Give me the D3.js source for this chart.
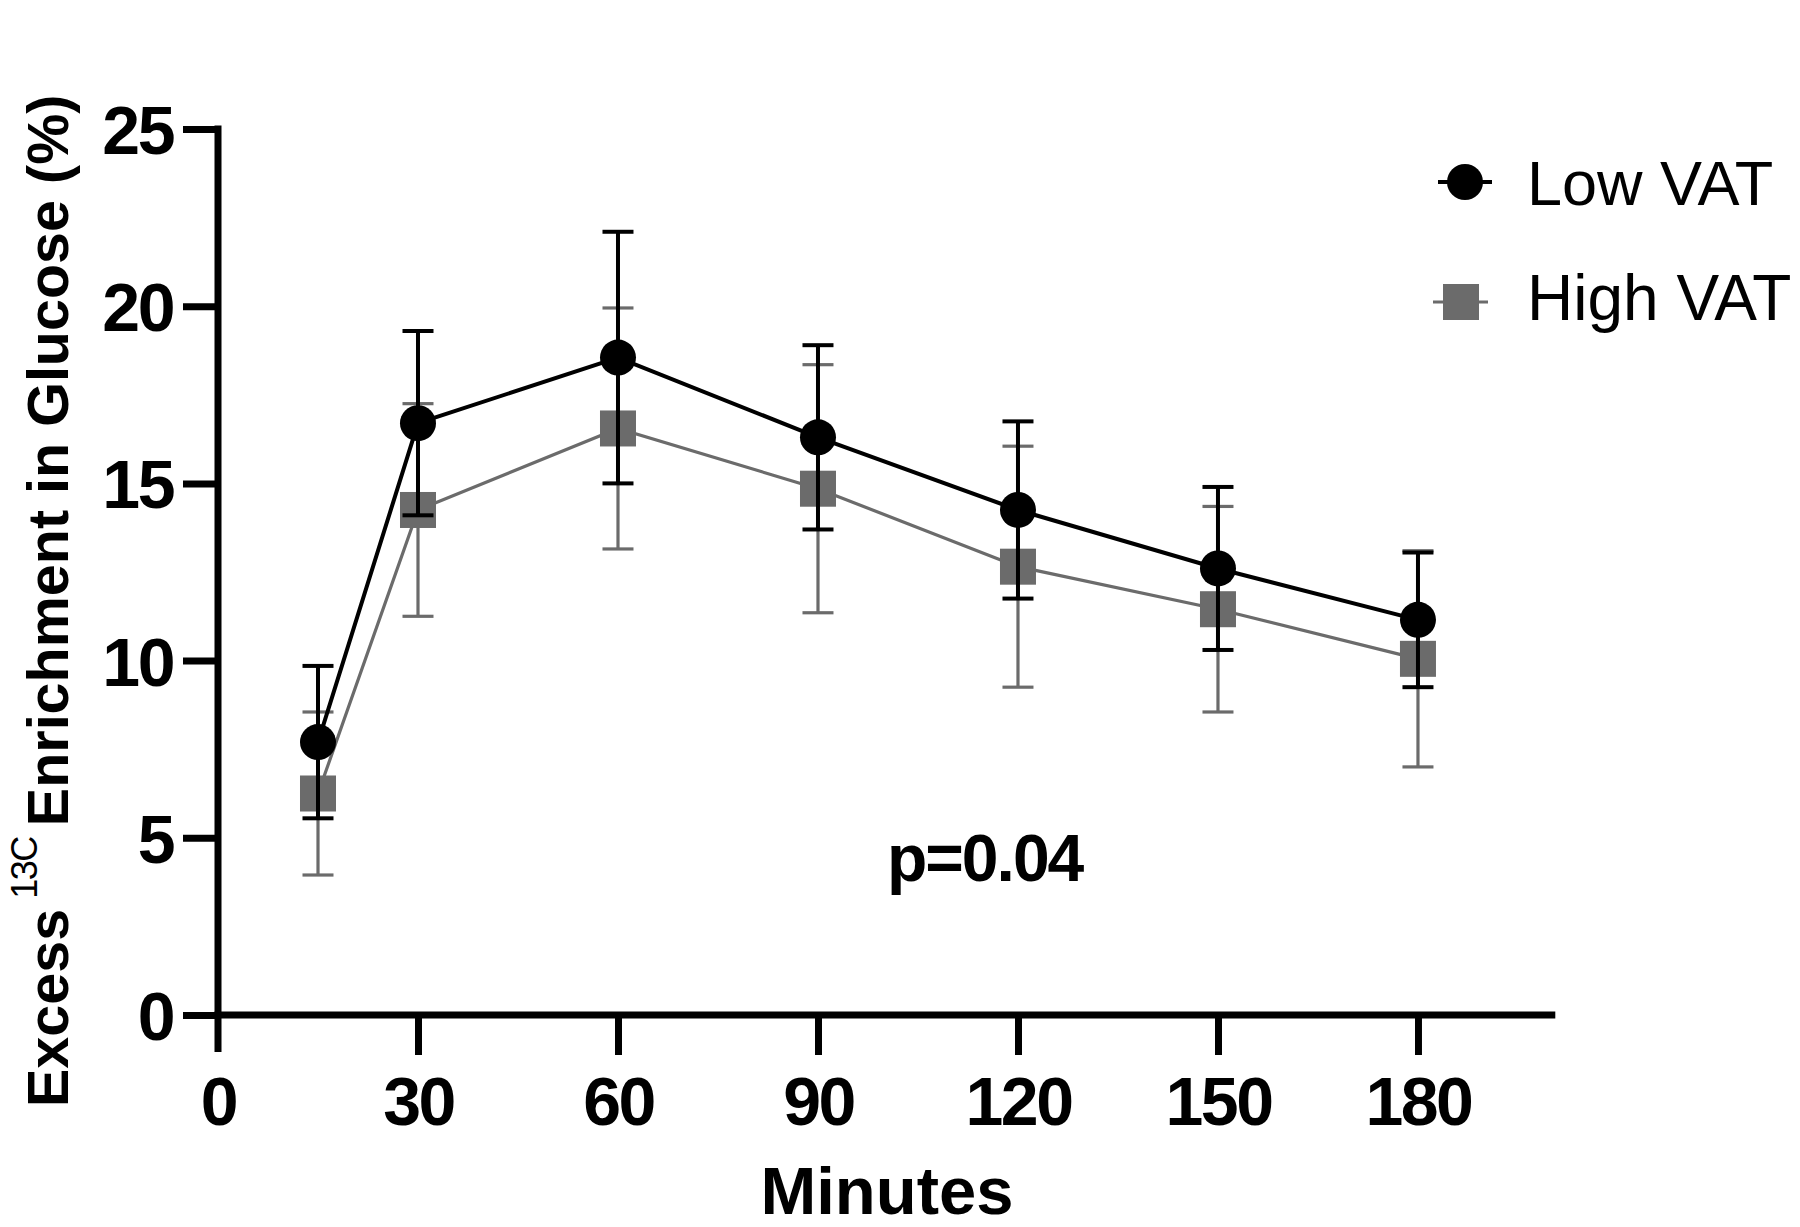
<!DOCTYPE html>
<html>
<head>
<meta charset="utf-8">
<script src="https://cdn.jsdelivr.net/npm/d3@7"></script>
<style>
  html, body { margin: 0; padding: 0; background: #fff; }
  svg { display: block; }
  text { font-family: "Liberation Sans", Arial, Helvetica, sans-serif; }
</style>
</head>
<body>
<script>
// ---- data ----
const times = [15, 30, 60, 90, 120, 150, 180];
const lowMean = [7.7, 16.7, 18.55, 16.3, 14.25, 12.6, 11.15];
const lowSD = [2.15, 2.6, 3.55, 2.6, 2.5, 2.3, 1.9];
const highMean = [6.25, 14.25, 16.55, 14.85, 12.65, 11.45, 10.05];
const highSD = [2.3, 3.0, 3.4, 3.5, 3.4, 2.9, 3.05];
const xTicks = [30, 60, 90, 120, 150, 180];
const yTicks = [0, 5, 10, 15, 20, 25];
const seriesNames = ["Low VAT", "High VAT"];

const W = 1800, H = 1227;
const svg = d3.select("body").append("svg").attr("width", W).attr("height", H);

const x = d3.scaleLinear().domain([0, 200]).range([218, 1551.3]);
const y = d3.scaleLinear().domain([0, 25]).range([1015, 129]);

const BLACK = "#000";
const GRAY = "#6b6b6b";
const AXW = 7;

// ---- axes (Prism style) ----
const g = svg.append("g");
g.append("line").attr("x1", x(0)).attr("x2", x(0))
  .attr("y1", y(25) - AXW / 2).attr("y2", y(0) + 37)
  .attr("stroke", BLACK).attr("stroke-width", AXW);
g.append("line").attr("x1", x(0) - AXW / 2).attr("x2", x(200) + 4)
  .attr("y1", y(0)).attr("y2", y(0))
  .attr("stroke", BLACK).attr("stroke-width", AXW);

const yAxis = d3.axisLeft(y).tickValues(yTicks).tickSize(35).tickPadding(10).tickFormat(d3.format("d"));
const ya = g.append("g").attr("transform", `translate(${x(0)},0)`).call(yAxis);
ya.select(".domain").remove();
ya.selectAll(".tick line").attr("stroke", BLACK).attr("stroke-width", AXW);
ya.selectAll(".tick text").attr("font-size", 68).attr("font-weight", "bold")
  .attr("fill", BLACK).attr("letter-spacing", "-2.5px")
  .attr("font-family", "'Liberation Sans', Arial, sans-serif").attr("dy", "0.36em");

const xAxis = d3.axisBottom(x).tickValues([0].concat(xTicks)).tickSize(40).tickPadding(22).tickFormat(d3.format("d"));
const xa = g.append("g").attr("transform", `translate(0,${y(0)})`).call(xAxis);
xa.select(".domain").remove();
xa.selectAll(".tick line").attr("stroke", BLACK).attr("stroke-width", AXW)
  .attr("opacity", d => d === 0 ? 0 : 1);
xa.selectAll(".tick text").attr("font-size", 68).attr("font-weight", "bold")
  .attr("fill", BLACK).attr("letter-spacing", "-2.5px")
  .attr("font-family", "'Liberation Sans', Arial, sans-serif").attr("dy", "0.71em");

// ---- series ----
function drawSeries(means, sds, color, lw, shape) {
  const sg = svg.append("g");
  const cap = 31;
  times.forEach((t, i) => {
    const cx = x(t);
    const top = y(means[i] + sds[i]), bot = y(means[i] - sds[i]);
    sg.append("line").attr("x1", cx).attr("x2", cx).attr("y1", top).attr("y2", bot)
      .attr("stroke", color).attr("stroke-width", lw);
    sg.append("line").attr("x1", cx - cap / 2).attr("x2", cx + cap / 2).attr("y1", top).attr("y2", top)
      .attr("stroke", color).attr("stroke-width", lw);
    sg.append("line").attr("x1", cx - cap / 2).attr("x2", cx + cap / 2).attr("y1", bot).attr("y2", bot)
      .attr("stroke", color).attr("stroke-width", lw);
  });
  const line = d3.line().x((d, i) => x(times[i])).y(d => y(d));
  sg.append("path").datum(means).attr("d", line).attr("fill", "none")
    .attr("stroke", color).attr("stroke-width", lw);
  if (shape === "circle") {
    sg.selectAll("circle").data(means).join("circle")
      .attr("cx", (d, i) => x(times[i])).attr("cy", d => y(d)).attr("r", 18).attr("fill", color);
  } else {
    sg.selectAll("rect.m").data(means).join("rect").attr("class", "m")
      .attr("x", (d, i) => x(times[i]) - 18).attr("y", d => y(d) - 18)
      .attr("width", 36).attr("height", 36).attr("fill", color);
  }
  return sg;
}
drawSeries(highMean, highSD, GRAY, 3.2, "square");
drawSeries(lowMean, lowSD, BLACK, 4, "circle");

// ---- legend ----
const lg = svg.append("g");
lg.append("line").attr("x1", 1438).attr("x2", 1492).attr("y1", 182).attr("y2", 182)
  .attr("stroke", BLACK).attr("stroke-width", 4);
lg.append("circle").attr("cx", 1465).attr("cy", 182).attr("r", 18).attr("fill", BLACK);
lg.append("text").attr("x", 1527).attr("y", 205).attr("font-size", 63).attr("fill", BLACK)
  .text(seriesNames[0]);
lg.append("line").attr("x1", 1433).attr("x2", 1488).attr("y1", 302).attr("y2", 302)
  .attr("stroke", GRAY).attr("stroke-width", 3);
lg.append("rect").attr("x", 1443).attr("y", 284).attr("width", 36).attr("height", 36).attr("fill", GRAY);
lg.append("text").attr("x", 1527).attr("y", 320).attr("font-size", 64).attr("fill", BLACK)
  .text(seriesNames[1]);

// ---- annotations ----
svg.append("text").attr("x", 887).attr("y", 881).attr("font-size", 66).attr("font-weight", "bold")
  .attr("letter-spacing", "-2px").attr("fill", BLACK).text("p=0.04");

svg.append("text").attr("x", 887).attr("y", 1214).attr("text-anchor", "middle")
  .attr("font-size", 67).attr("font-weight", "bold").attr("fill", BLACK).text("Minutes");

const yt = svg.append("text").attr("transform", "translate(68,1107) rotate(-90)")
  .attr("font-size", 57.5).attr("font-weight", "bold").attr("fill", BLACK);
yt.append("tspan").text("Excess");
yt.append("tspan").attr("font-size", 36).attr("font-weight", "normal")
  .attr("letter-spacing", "-1.5px").attr("dx", 10).attr("dy", -31).text("13C");
yt.append("tspan").attr("dx", 11).attr("dy", 31).text("Enrichment in Glucose (%)");
</script>
</body>
</html>
